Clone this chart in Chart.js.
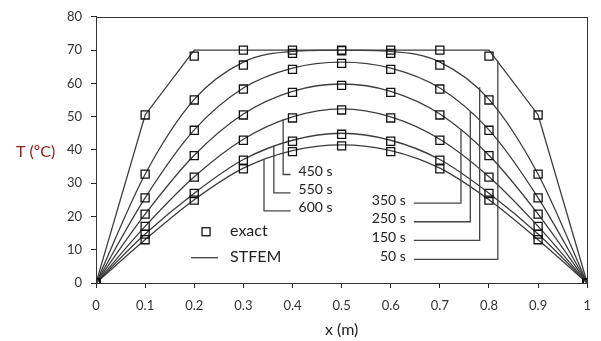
<!DOCTYPE html>
<html><head><meta charset="utf-8">
<script src="https://cdn.jsdelivr.net/npm/chart.js@4/dist/chart.umd.min.js"></script>
<style>html,body{margin:0;padding:0;background:#fff}#wrap{width:601px;height:341px;position:relative}</style>
</head><body><div id="wrap"><canvas id="c"></canvas></div>
<script>
// ---- data ----
const xPositions = [0, 0.1, 0.2, 0.3, 0.4, 0.5, 0.6, 0.7, 0.8, 0.9, 1];
const timeLabels = ['50 s', '150 s', '250 s', '350 s', '450 s', '550 s', '600 s'];

const exact50  = [0, 50.5, 68.2, 70.0, 70.0, 70.0, 70.0, 70.0, 68.2, 50.5, 0];
const exact150 = [0, 32.7, 55.0, 65.5, 69.0, 69.8, 69.0, 65.5, 55.0, 32.7, 0];
const exact250 = [0, 25.6, 45.9, 58.3, 64.2, 66.0, 64.2, 58.3, 45.9, 25.6, 0];
const exact350 = [0, 20.7, 38.3, 50.5, 57.3, 59.4, 57.3, 50.5, 38.3, 20.7, 0];
const exact450 = [0, 17.0, 31.8, 42.9, 49.6, 52.0, 49.6, 42.9, 31.8, 17.0, 0];
const exact550 = [0, 14.7, 26.9, 36.9, 42.6, 44.7, 42.6, 36.9, 26.9, 14.7, 0];
const exact600 = [0, 13.0, 24.9, 34.3, 39.5, 41.2, 39.5, 34.3, 24.9, 13.0, 0];

const stfem50  = [0, 50.5, 70.0, 70.0, 70.0, 70.0, 70.0, 70.0, 70.0, 50.5, 0];
const stfem150 = [0, 32.7, 55.2, 66.4, 69.6, 70.0, 69.6, 66.4, 55.2, 32.7, 0];
const stfem250 = [0, 25.6, 46.0, 58.6, 64.6, 66.4, 64.6, 58.6, 46.0, 25.6, 0];
const stfem350 = [0, 20.7, 38.4, 50.8, 57.6, 59.8, 57.6, 50.8, 38.4, 20.7, 0];
const stfem450 = [0, 17.0, 31.9, 43.2, 49.9, 52.3, 49.9, 43.2, 31.9, 17.0, 0];
const stfem550 = [0, 14.7, 27.0, 37.1, 42.9, 45.0, 42.9, 37.1, 27.0, 14.7, 0];
const stfem600 = [0, 13.0, 25.0, 34.5, 39.8, 41.5, 39.8, 34.5, 25.0, 13.0, 0];

const yTicks = [0, 10, 20, 30, 40, 50, 60, 70, 80];
const xTicks = [0, 0.1, 0.2, 0.3, 0.4, 0.5, 0.6, 0.7, 0.8, 0.9, 1];

// leader-line annotations (data coordinates)
const leaderX      = [0.818, 0.781, 0.762, 0.743, 0.381, 0.362, 0.342];
const leaderTop    = [66.8, 58.8, 51.6, 46.3, 49.3, 41.2, 37.0];
const leaderBottom = [7.1, 12.8, 18.4, 24.0, 32.6, 27.1, 21.7];
const leaderEndX   = [0.647, 0.647, 0.647, 0.647, 0.396, 0.396, 0.396];

// ---- build ----
const exactSeries = [exact50, exact150, exact250, exact350, exact450, exact550, exact600];
const stfemSeries = [stfem50, stfem150, stfem250, stfem350, stfem450, stfem550, stfem600];
const toPts = arr => arr.map((v, i) => ({x: xPositions[i], y: v}));

const FONT = 'Lato, "Open Sans", sans-serif';
const LINE_COLOR = '#3c3c3c';
const datasets = [];
stfemSeries.forEach((s, i) => {
  datasets.push({
    label: 'STFEM ' + timeLabels[i], type: 'line', data: toPts(s),
    borderColor: LINE_COLOR, borderWidth: 1.3, pointRadius: 0, fill: false,
    tension: 0, cubicInterpolationMode: i === 0 ? 'default' : 'monotone', order: 2
  });
});
exactSeries.forEach((s, i) => {
  datasets.push({
    label: 'exact ' + timeLabels[i], type: 'scatter', data: toPts(s), showLine: false,
    pointStyle: 'rect', pointRadius: 5.7, pointBorderWidth: 1.3,
    pointBorderColor: '#111', pointBackgroundColor: 'rgba(0,0,0,0)', order: 1
  });
});

const annot = {
  id: 'annot',
  afterDatasetsDraw(chart) {
    const {ctx, chartArea: a, scales: {x, y}} = chart;
    ctx.save();
    // frame
    ctx.strokeStyle = '#333'; ctx.lineWidth = 1;
    ctx.strokeRect(Math.round(a.left) + 0.5, Math.round(a.top) + 0.5,
                   Math.round(a.right - a.left), Math.round(a.bottom - a.top));
    // leader lines and labels
    ctx.strokeStyle = '#444'; ctx.lineWidth = 1.3;
    ctx.font = '14px ' + FONT; ctx.fillStyle = '#222'; ctx.textBaseline = 'middle';
    timeLabels.forEach((t, i) => {
      const px = x.getPixelForValue(leaderX[i]);
      const pt = y.getPixelForValue(leaderTop[i]);
      const pb = y.getPixelForValue(leaderBottom[i]);
      const pe = x.getPixelForValue(leaderEndX[i]);
      ctx.beginPath(); ctx.moveTo(px, pt); ctx.lineTo(px, pb); ctx.lineTo(pe, pb); ctx.stroke();
      if (pe < px) { ctx.textAlign = 'right'; ctx.fillText(t, pe - 8, pb - 3); }
      else { ctx.textAlign = 'left'; ctx.fillText(t, pe + 8, pb - 3); }
    });
    // legend
    const lx = x.getPixelForValue(0.224), ly1 = y.getPixelForValue(15.4), ly2 = y.getPixelForValue(7.6);
    ctx.strokeStyle = '#111'; ctx.lineWidth = 1.3;
    ctx.strokeRect(lx - 4, ly1 - 4, 8, 8);
    ctx.strokeStyle = LINE_COLOR;
    ctx.beginPath(); ctx.moveTo(lx - 15, ly2); ctx.lineTo(lx + 12, ly2); ctx.stroke();
    ctx.font = '16px ' + FONT; ctx.textAlign = 'left'; ctx.fillStyle = '#222';
    ctx.fillText('exact', lx + 24, ly1 - 1);
    ctx.fillText('STFEM', lx + 24, ly2 - 1);
    // axis titles
    ctx.textAlign = 'center';
    ctx.fillText('x (m)', x.getPixelForValue(0.5), 330);
    ctx.fillStyle = '#8a2020'; ctx.textAlign = 'left';
    ctx.fillText('T (\u00baC)', 16, 152);
    ctx.restore();
  }
};

new Chart(document.getElementById('c'), {
  type: 'scatter',
  data: {datasets},
  options: {
    responsive: true, maintainAspectRatio: false, animation: false,
    layout: {padding: {left: 0, right: 12, top: 13, bottom: 0}},
    plugins: {legend: {display: false}, tooltip: {enabled: false}},
    scales: {
      x: {
        type: 'linear', min: 0, max: 1,
        afterBuildTicks: s => { s.ticks = xTicks.map(v => ({value: v})); },
        ticks: {callback: v => String(+v.toFixed(1)), font: {family: FONT, size: 13}, color: '#333', padding: 10, maxRotation: 0, autoSkip: false},
        grid: {drawOnChartArea: false, tickLength: 5, color: '#222'},
        border: {color: '#222', width: 1},
        afterFit: s => { s.height = 58; }
      },
      y: {
        type: 'linear', min: 0, max: 80,
        afterBuildTicks: s => { s.ticks = yTicks.map(v => ({value: v})); },
        ticks: {font: {family: FONT, size: 13}, color: '#333', padding: 9},
        grid: {drawOnChartArea: false, tickLength: 5, color: '#222'},
        border: {color: '#222', width: 1},
        afterFit: s => { s.width = 96; }
      }
    }
  },
  plugins: [annot]
});
</script>
</body></html>
